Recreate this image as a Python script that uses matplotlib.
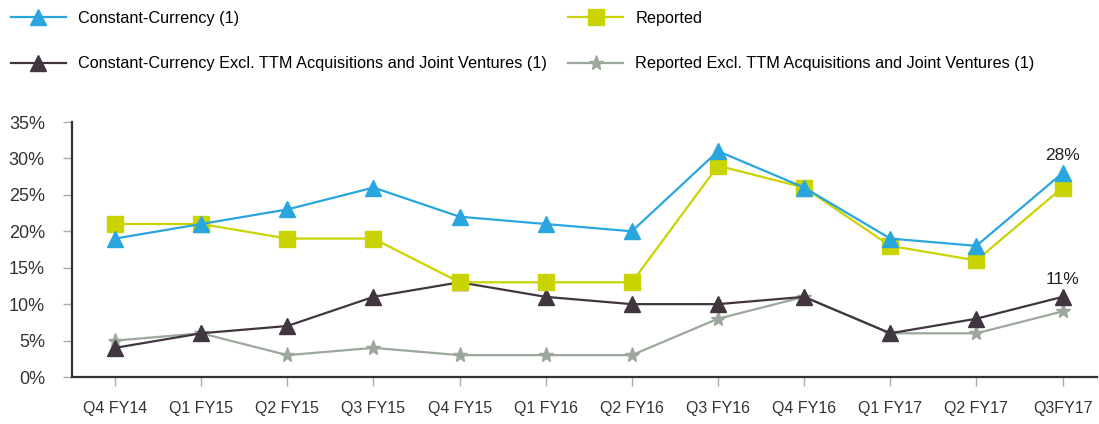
import numpy as np
import matplotlib.pyplot as plt

plt.rcParams['font.family'] = ['Liberation Sans', 'DejaVu Sans']

quarters = ["Q4 FY14", "Q1 FY15", "Q2 FY15", "Q3 FY15", "Q4 FY15", "Q1 FY16",
            "Q2 FY16", "Q3 FY16", "Q4 FY16", "Q1 FY17", "Q2 FY17", "Q3FY17"]
const_cur = [19, 21, 23, 26, 22, 21, 20, 31, 26, 19, 18, 28]
reported = [21, 21, 19, 19, 13, 13, 13, 29, 26, 18, 16, 26]
const_cur_excl = [4, 6, 7, 11, 13, 11, 10, 10, 11, 6, 8, 11]
reported_excl = [5, 6, 3, 4, 3, 3, 3, 8, 11, 6, 6, 9]
yticks = [0, 5, 10, 15, 20, 25, 30, 35]

x = np.arange(len(quarters))

fig = plt.figure(figsize=(10.99, 4.24), dpi=100)
ax = fig.add_axes([72/1099, 1-377/424, (1097-72)/1099, (377-122)/424])

# draw order: grey star at the back, blue on top
l4, = ax.plot(x, reported_excl, color="#9BA89B", lw=1.6, marker="*", ms=11, label="Reported Excl. TTM Acquisitions and Joint Ventures (1)")
l3, = ax.plot(x, const_cur_excl, color="#41363F", lw=1.6, marker="^", ms=12, label="Constant-Currency Excl. TTM Acquisitions and Joint Ventures (1)")
l2, = ax.plot(x, reported, color="#C9D400", lw=1.6, marker="s", ms=11.5, label="Reported")
l1, = ax.plot(x, const_cur, color="#29A6DE", lw=1.6, marker="^", ms=12, label="Constant-Currency (1)")

# last-point labels
ax.annotate("%d%%" % const_cur[-1], (x[-1], const_cur[-1]), xytext=(0, 7), textcoords="offset points",
            ha="center", va="bottom", fontsize=12.5, color="#222222")
ax.annotate("%d%%" % const_cur_excl[-1], (x[-1], const_cur_excl[-1]), xytext=(0, 7), textcoords="offset points",
            ha="center", va="bottom", fontsize=12.5, color="#222222")

ax.set_xlim(-0.5, 11.4)
ax.set_ylim(0, 35)
ax.set_xticks(x)
ax.set_xticklabels(quarters)
ax.set_yticks(yticks)
ax.set_yticklabels(["%d%%" % v for v in yticks])
ax.tick_params(axis="x", length=6.5, width=1, color="#aaaaaa", pad=11, labelsize=11.5, labelcolor="#333333")
ax.tick_params(axis="y", length=6.5, width=1, color="#aaaaaa", pad=13, labelsize=13, labelcolor="#333333")
for s in ["top", "right"]:
    ax.spines[s].set_visible(False)
for s in ["left", "bottom"]:
    ax.spines[s].set_color("#333333")
    ax.spines[s].set_linewidth(1.6)

fig.legend([l1, l3, l2, l4], [l1.get_label(), l3.get_label(), l2.get_label(), l4.get_label()],
           ncol=2, loc="upper left", bbox_to_anchor=(0.0, 1.0), frameon=False,
           fontsize=11.7, handlelength=3.4, handletextpad=0.75, columnspacing=1.3,
           labelspacing=1.9, borderaxespad=0.1, borderpad=0.55)

fig.savefig("out.png", dpi=100)
